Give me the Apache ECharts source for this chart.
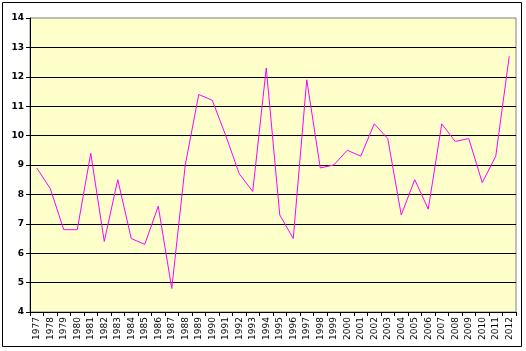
<!DOCTYPE html>
<html>
<head>
<meta charset="utf-8">
<script src="https://cdn.jsdelivr.net/npm/echarts@6/dist/echarts.min.js"></script>
<style>
  html, body { margin: 0; padding: 0; background: #fff; }
  #main { width: 526px; height: 351px; }
</style>
</head>
<body>
<div id="main"></div>
<script>
// years along the x axis
const years = [];
for (let y = 1977; y <= 2012; y++) years.push(String(y));

// values
const values = [
  8.9, 8.2, 6.8, 6.8, 9.4, 6.4, 8.5, 6.5, 6.3, 7.6,
  4.8, 9.0, 11.4, 11.2, 10.0, 8.7, 8.1, 12.3, 7.3, 6.5,
  11.9, 8.9, 9.0, 9.5, 9.3, 10.4, 9.9, 7.3, 8.5, 7.5,
  10.4, 9.8, 9.9, 8.4, 9.3, 12.7
];

const yMin = 4;
const yMax = 14;

const myChart = echarts.init(document.getElementById("main"));
const option = {
  animation: false,
  backgroundColor: "#fff",
  graphic: [
    {
      type: "rect",
      shape: { x: 2.5, y: 2.5, width: 519, height: 344 },
      style: { fill: "none", stroke: "#000", lineWidth: 1 },
      z: 100,
    },
  ],
  grid: {
    left: 30,
    top: 18,
    right: 10,
    bottom: 39,
    show: true,
    backgroundColor: "#FFFFCC",
    borderColor: "#808080",
    borderWidth: 1,
  },
  xAxis: {
    type: "category",
    data: years,
    boundaryGap: true,
    axisLine: { lineStyle: { color: "#000", width: 1 } },
    axisTick: { show: true, length: 4, alignWithLabel: false, lineStyle: { color: "#000" } },
    axisLabel: {
      interval: 0,
      rotate: 90,
      color: "#000",
      fontFamily: "DejaVu Sans",
      fontSize: 9,
      margin: 5,
    },
    splitLine: { show: false },
  },
  yAxis: {
    type: "value",
    min: yMin,
    max: yMax,
    interval: 1,
    axisLine: { show: true, lineStyle: { color: "#000", width: 1 } },
    axisTick: { show: true, length: 4, lineStyle: { color: "#000" } },
    axisLabel: {
      color: "#000",
      fontFamily: "DejaVu Sans",
      fontWeight: "bold",
      fontSize: 9,
      margin: 6,
    },
    // top line is left to the grey plot border
    splitLine: { show: true, showMaxLine: false, lineStyle: { color: "#000", width: 1 } },
  },
  series: [
    {
      type: "line",
      data: values,
      symbol: "none",
      lineStyle: { color: "#FF00FF", width: 1 },
    },
  ],
};
myChart.setOption(option);
</script>
</body>
</html>
